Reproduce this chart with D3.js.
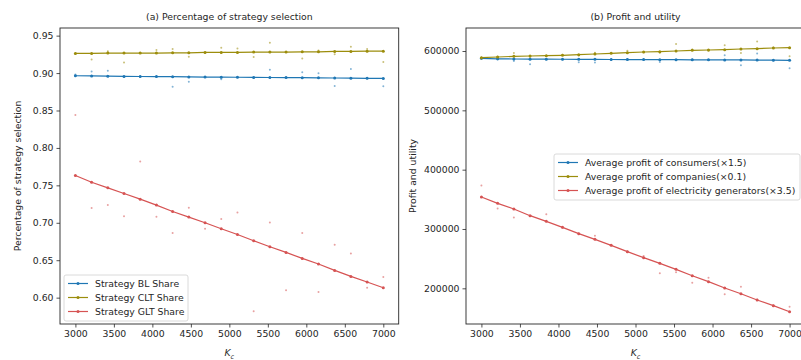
<!DOCTYPE html>
<html>
<head>
<meta charset="utf-8">
<script src="https://cdn.jsdelivr.net/npm/d3@7"></script>
<style>
  body { margin: 0; background: #fff; }
  text { font-family: "DejaVu Sans", sans-serif; fill: #262626; }
</style>
</head>
<body>
<div id="chart"></div>
<script>
// x values (K_c)
const kc = [3000, 3210.5, 3421.1, 3631.6, 3842.1, 4052.6, 4263.2, 4473.7, 4684.2, 4894.7,
            5105.3, 5315.8, 5526.3, 5736.8, 5947.4, 6157.9, 6368.4, 6578.9, 6789.5, 7000];
const kcTicks = [3000, 3500, 4000, 4500, 5000, 5500, 6000, 6500, 7000];

// (a) strategy shares, fitted line values
const blShare  = [0.8964, 0.8962, 0.8958, 0.8955, 0.8954, 0.8953, 0.8952, 0.8949, 0.8946, 0.8945,
                  0.8944, 0.8942, 0.8941, 0.8940, 0.8939, 0.8937, 0.8934, 0.8932, 0.8930, 0.8928];
const cltShare = [0.9262, 0.9262, 0.9267, 0.9267, 0.9267, 0.9267, 0.9271, 0.9271, 0.9276, 0.9276,
                  0.9276, 0.9280, 0.9280, 0.9280, 0.9284, 0.9284, 0.9289, 0.9289, 0.9293, 0.9293];
const gltShare = [0.7631, 0.7542, 0.7467, 0.7391, 0.7316, 0.7236, 0.7151, 0.7076, 0.7000, 0.6920,
                  0.6844, 0.6760, 0.6680, 0.6604, 0.6524, 0.6449, 0.6364, 0.6284, 0.6209, 0.6133];
// (a) raw runs (scattered points)
const blRaw  = [0.8980, 0.9020, 0.9030, 0.8955, 0.8954, 0.8953, 0.8818, 0.8884, 0.8946, 0.8916,
                0.8944, 0.8942, 0.9044, 0.8940, 0.9010, 0.8997, 0.8827, 0.9053, 0.8930, 0.8825];
const cltRaw = [0.9262, 0.9182, 0.9293, 0.9142, 0.9267, 0.9307, 0.9320, 0.9218, 0.9276, 0.9338,
                0.9329, 0.9213, 0.9404, 0.9280, 0.9196, 0.9302, 0.9253, 0.9351, 0.9320, 0.9147];
const gltRaw = [0.8440, 0.7196, 0.7236, 0.7089, 0.7818, 0.7080, 0.6862, 0.7200, 0.6920, 0.7049,
                0.7138, 0.5818, 0.7004, 0.6098, 0.6862, 0.6076, 0.6707, 0.6591, 0.6133, 0.6276];

// (b) profits, fitted line values
const consumers  = [587600, 586800, 586500, 586300, 586200, 586100, 586000, 585900, 585700, 585600,
                    585500, 585400, 585300, 585200, 585100, 585000, 584900, 584700, 584500, 584300];
const companies  = [588760, 589890, 591010, 591570, 592130, 592700, 593820, 594940, 596070, 597190,
                    598310, 598880, 600000, 601120, 601690, 602250, 603370, 603930, 605060, 605620];
const generators = [353900, 343230, 333680, 322440, 312890, 302780, 292100, 282550, 272440, 261760,
                    251640, 242100, 231990, 221300, 211190, 200510, 190960, 180290, 170730, 160620];
// (b) raw runs
const consumersRaw  = [587000, 585500, 583000, 577500, 586200, 585800, 581000, 580500, 585500, 586500,
                       585500, 581500, 585000, 585500, 585000, 593000, 576000, 596000, 584500, 571000];
const companiesRaw  = [588500, 590500, 596500, 590500, 592000, 593500, 592500, 597000, 596500, 600500,
                       598000, 597000, 612000, 602500, 600500, 609500, 596500, 616000, 606000, 591000];
const generatorsRaw = [373300, 334500, 319300, 322000, 324700, 302000, 292500, 288700, 273000, 262500,
                       254400, 225500, 227200, 209500, 217900, 189900, 202800, 181000, 171500, 169000];

const shareTicks  = [0.60, 0.65, 0.70, 0.75, 0.80, 0.85, 0.90, 0.95];
const profitTicks = [200000, 300000, 400000, 500000, 600000];

const blue = "#1f77b4", olive = "#9c8d0c", red = "#d65353";

const svg = d3.select("#chart").append("svg")
  .attr("width", 801).attr("height", 360);

function drawPanel(p) {
  const x = d3.scaleLinear().domain([2800, 7200]).range([p.left, p.right]);
  const y = d3.scaleLinear().domain(p.yDomain).range([p.bottom, p.top]);
  const g = svg.append("g");

  const clipId = "clip" + p.id;
  g.append("clipPath").attr("id", clipId).append("rect")
    .attr("x", p.left).attr("y", p.top)
    .attr("width", p.right - p.left).attr("height", p.bottom - p.top);
  const plot = g.append("g").attr("clip-path", `url(#${clipId})`);

  p.series.forEach(s => {
    const line = d3.line().x((d, i) => x(kc[i])).y(d => y(d));
    plot.append("path").datum(s.values)
      .attr("fill", "none").attr("stroke", s.color)
      .attr("stroke-width", 1.2).attr("d", line);
    plot.selectAll(null).data(s.values).enter().append("circle")
      .attr("cx", (d, i) => x(kc[i])).attr("cy", d => y(d))
      .attr("r", 1.5).attr("fill", s.color);
    plot.selectAll(null).data(s.raw).enter().append("circle")
      .attr("cx", (d, i) => x(kc[i])).attr("cy", d => y(d))
      .attr("r", 1).attr("fill", s.color).attr("opacity", 0.55);
  });

  const xAxis = d3.axisBottom(x).tickValues(kcTicks).tickSize(3.5).tickPadding(3).tickFormat(d3.format("d"));
  const xg = g.append("g").attr("transform", `translate(0,${p.bottom})`).call(xAxis);
  const yAxis = d3.axisLeft(y).tickValues(p.yTicks).tickSize(3.5).tickPadding(3).tickFormat(p.fmt);
  const yg = g.append("g").attr("transform", `translate(${p.left},0)`).call(yAxis);
  [xg, yg].forEach(a => {
    a.select(".domain").remove();
    a.selectAll("line").attr("stroke", "#262626").attr("stroke-width", 0.8);
    a.selectAll("text").style("font-size", "9.3px").style("font-family", "DejaVu Sans").attr("fill", "#262626");
  });

  g.append("rect")
    .attr("x", p.left).attr("y", p.top)
    .attr("width", p.right - p.left).attr("height", p.bottom - p.top)
    .attr("fill", "none").attr("stroke", "#262626").attr("stroke-width", 0.9);

  g.append("text")
    .attr("x", (p.left + p.right) / 2).attr("y", 20)
    .attr("text-anchor", "middle").style("font-size", "9.3px")
    .text(p.title);

  const xl = g.append("text")
    .attr("x", (p.left + p.right) / 2).attr("y", 356)
    .attr("text-anchor", "middle").style("font-size", "9.3px");
  xl.append("tspan").style("font-style", "italic").text("K");
  xl.append("tspan").attr("dy", 2.5).style("font-size", "6.5px").style("font-style", "italic").text("c");

  g.append("text")
    .attr("transform", `translate(${p.ylabelX},${(p.top + p.bottom) / 2}) rotate(-90)`)
    .attr("text-anchor", "middle").style("font-size", "9.3px")
    .text(p.ylabel);

  // legend
  const lg = g.append("g");
  lg.append("rect")
    .attr("x", p.legend.x).attr("y", p.legend.y)
    .attr("width", p.legend.w).attr("height", p.legend.h)
    .attr("rx", 2).attr("fill", "#fff").attr("fill-opacity", 0.85)
    .attr("stroke", "#d0d0d0").attr("stroke-width", 0.8);
  p.series.forEach((s, i) => {
    const ly = p.legend.y + 8.5 + i * 14;
    lg.append("line")
      .attr("x1", p.legend.x + 4).attr("x2", p.legend.x + 24)
      .attr("y1", ly).attr("y2", ly)
      .attr("stroke", s.color).attr("stroke-width", 1.2);
    lg.append("circle").attr("cx", p.legend.x + 14).attr("cy", ly).attr("r", 1.5).attr("fill", s.color);
    lg.append("text")
      .attr("x", p.legend.x + 31).attr("y", ly).attr("dy", "0.35em")
      .style("font-size", "9.3px").text(s.name);
  });
}

drawPanel({
  id: "a", left: 60, right: 398.7, top: 28, bottom: 324,
  yDomain: [0.5648, 0.9602], yTicks: shareTicks, fmt: d3.format(".2f"),
  title: "(a) Percentage of strategy selection",
  ylabel: "Percentage of strategy selection", ylabelX: 21,
  legend: { x: 64, y: 275, w: 124, h: 46 },
  series: [
    { name: "Strategy BL Share", values: blShare, raw: blRaw, color: blue },
    { name: "Strategy CLT Share", values: cltShare, raw: cltRaw, color: olive },
    { name: "Strategy GLT Share", values: gltShare, raw: gltRaw, color: red }
  ]
});

drawPanel({
  id: "b", left: 466, right: 805, top: 28, bottom: 324,
  yDomain: [139870, 638770], yTicks: profitTicks, fmt: d3.format("d"),
  title: "(b) Profit and utility",
  ylabel: "Profit and utility", ylabelX: 416,
  legend: { x: 554, y: 154, w: 246, h: 46 },
  series: [
    { name: "Average profit of consumers(×1.5)", values: consumers, raw: consumersRaw, color: blue },
    { name: "Average profit of companies(×0.1)", values: companies, raw: companiesRaw, color: olive },
    { name: "Average profit of electricity generators(×3.5)", values: generators, raw: generatorsRaw, color: red }
  ]
});
</script>
</body>
</html>
